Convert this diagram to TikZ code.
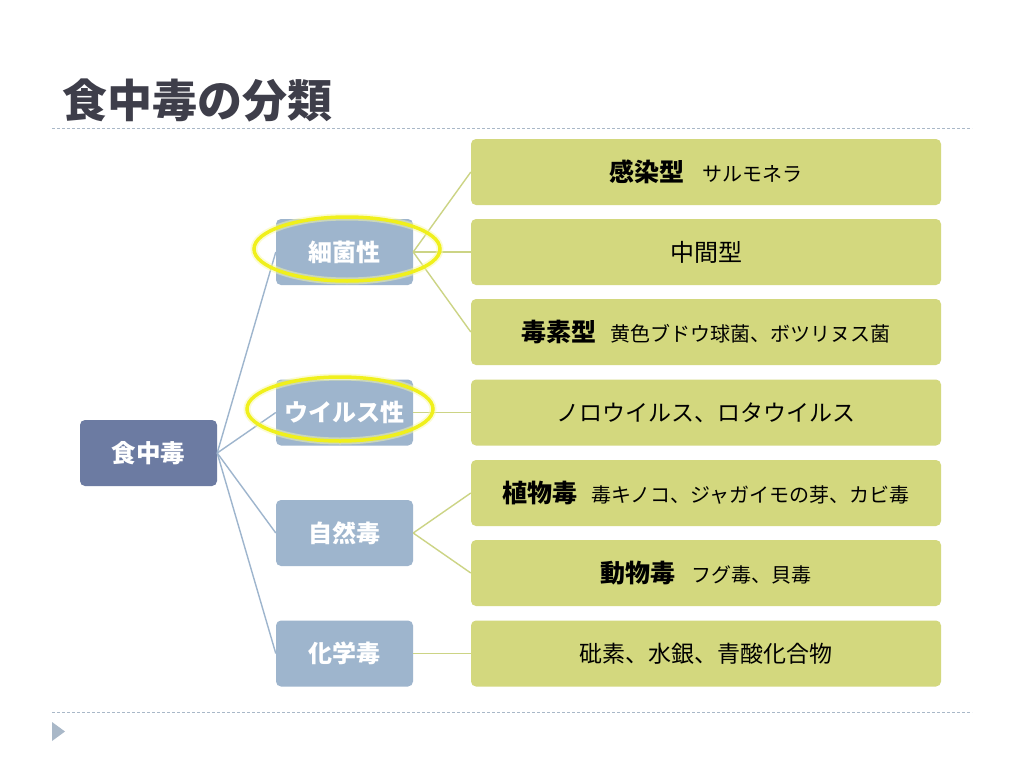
\documentclass[tikz,border=0pt]{standalone}
\usepackage{fontspec}
\setmainfont{Noto Sans CJK JP}
\usepackage{xcolor}
\usepackage{tikz}
\usetikzlibrary{shapes.geometric}
\definecolor{rootblue}{HTML}{6C7BA2}
\definecolor{midblue}{HTML}{9EB5CD}
\definecolor{leafgreen}{HTML}{D3D87E}
\definecolor{leafline}{HTML}{CCD485}
\definecolor{ringyellow}{HTML}{F0F01C}
\definecolor{titlegray}{HTML}{3E3E4A}
\definecolor{rulegray}{HTML}{A9B8C8}
\def\kind#1{{\bfseries\fontsize{25}{29}\selectfont #1}}

\begin{document}
\begin{tikzpicture}[x=1pt,y=-1pt,
		root/.style={rectangle, rounded corners=5pt, fill=rootblue, minimum width=137pt, minimum height=66pt, text=white, font=\bfseries\fontsize{24.5}{28}\selectfont},
		mid/.style={rectangle, rounded corners=5pt, fill=midblue, minimum width=137pt, minimum height=66pt, text=white, font=\bfseries\fontsize{24}{28}\selectfont},
		leaf/.style={rectangle, rounded corners=5pt, fill=leafgreen, minimum width=470pt, minimum height=66pt, text=black, font=\fontsize{20}{24}\selectfont},
		ring/.style={ellipse, minimum width=186pt, minimum height=64pt, draw=ringyellow, line width=3.5pt, preaction={draw=ringyellow!40, line width=7pt, opacity=0.5}},
		trunk/.style={draw=midblue, line width=1.4pt},
		twig/.style={draw=leafline, line width=1.4pt}]
		\useasboundingbox[fill=white] (0,0) rectangle (1024,768);
		
		\node[anchor=west, text=titlegray, font=\bfseries\fontsize{45}{52}\selectfont, inner sep=0pt] (title) at (62,100) {食中毒の分類};
		\draw[rulegray, line width=0.8pt, dash pattern=on 3pt off 2pt] (52,128) -- (972,128);
		\draw[rulegray, line width=0.8pt, dash pattern=on 3pt off 2pt] (52,712) -- (972,712);
		\fill[rulegray] (52,722) -- (65,731.5) -- (52,741) -- cycle;
		
		\node[root] (food) at (148.5,453) {食中毒};
		
		\node[mid] (bact) at (344.5,252) {細菌性};
		\node[mid] (virus) at (344.5,412.5) {ウイルス性};
		\node[mid] (nat) at (344.5,533) {自然毒};
		\node[mid] (chem) at (344.5,653.5) {化学毒};
		
		\node[leaf] (inf) at (706,172) {\kind{感染型}\hspace{0.9em}サルモネラ};
		\node[leaf] (inter) at (706,252) {\fontsize{24}{28}\selectfont 中間型};
		\node[leaf] (tox) at (706,332) {\kind{毒素型}\hspace{0.7em}黄色ブドウ球菌、ボツリヌス菌};
		\node[leaf] (noro) at (706,412.5) {\fontsize{23}{27}\selectfont ノロウイルス、ロタウイルス};
		\node[leaf] (plant) at (706,493) {\kind{植物毒}\hspace{0.7em}毒キノコ、ジャガイモの芽、カビ毒};
		\node[leaf] (anim) at (706,573) {\kind{動物毒}\hspace{0.8em}フグ毒、貝毒};
		\node[leaf] (arsen) at (706,653.5) {\fontsize{23}{27}\selectfont 砒素、水銀、青酸化合物};
		
		\draw[trunk] (food.east) -- (bact.west);
		\draw[trunk] (food.east) -- (virus.west);
		\draw[trunk] (food.east) -- (nat.west);
		\draw[trunk] (food.east) -- (chem.west);
		
		\draw[twig] (bact.east) -- (inf.west);
		\draw[twig] (bact.east) -- (inter.west);
		\draw[twig] (bact.east) -- (tox.west);
		\draw[twig] (virus.east) -- (noro.west);
		\draw[twig] (nat.east) -- (plant.west);
		\draw[twig] (nat.east) -- (anim.west);
		\draw[twig] (chem.east) -- (arsen.west);
		
		\node[ring] (ringbact) at (347,249) {};
		\node[ring] (ringvirus) at (340,409) {};
	\end{tikzpicture}
\end{document}
